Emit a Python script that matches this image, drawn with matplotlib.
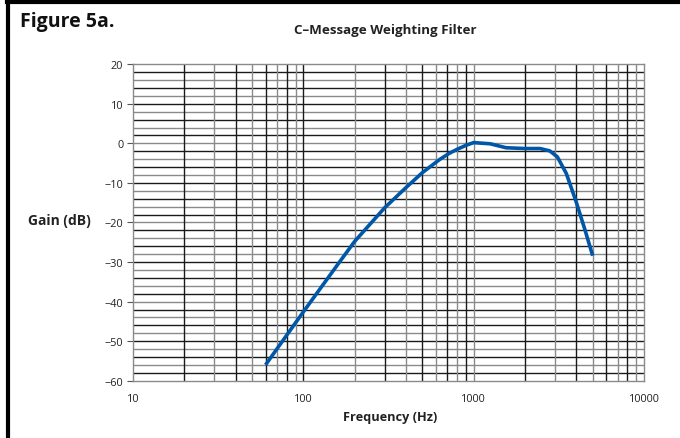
import numpy as np
import matplotlib.pyplot as plt
from matplotlib.lines import Line2D

# C-message weighting curve
freq_hz = [60, 100, 165, 200, 300, 400, 500, 630, 720, 800, 900, 1000,
           1250, 1550, 2000, 2450, 2800, 3100, 3500, 4000, 4500, 5000]
gain_db = [-56.0, -42.6, -29.7, -24.8, -16.3, -11.2, -7.4, -4.1, -2.5,
           -1.5, -0.5, 0.2, -0.1, -1.1, -1.3, -1.3, -1.9, -3.4, -7.6,
           -14.8, -21.8, -28.4]

x_ticks = [10, 100, 1000, 10000]
x_ticklabels = ["10", "100", "1000", "10000"]
y_ticks = [20, 10, 0, -10, -20, -30, -40, -50, -60]

plt.rcParams["font.family"] = ["Open Sans", "DejaVu Sans"]

fig = plt.figure(figsize=(6.8, 4.39), dpi=100)
ax = fig.add_axes([0.1956, 0.1305, 0.7514, 0.7208])

ax.set_xscale("log")
ax.set_xlim(10, 10000)
ax.set_ylim(-60, 20)

# grid: every 2 dB horizontally, 1-9 per decade vertically
for i, y in enumerate(np.arange(-58, 20, 2)):
    ax.axhline(y, color="#1a1a1a" if i % 2 == 0 else "#8a8a8a",
               lw=1.0, zorder=1)
k = 0
for dec in [10, 100, 1000]:
    for m in range(1, 10):
        f = dec * m
        if f == 10:
            continue
        ax.axvline(f, color="#1a1a1a" if k % 2 == 0 else "#8a8a8a",
                   lw=1.0, zorder=1)
        k += 1

ax.plot(freq_hz, gain_db, color="#0057a8", lw=2.6, zorder=3,
        solid_capstyle="butt")

for s in ax.spines.values():
    s.set_color("#8a8a8a")
    s.set_linewidth(1.0)

ax.set_xticks(x_ticks)
ax.set_xticklabels(x_ticklabels)
ax.xaxis.set_minor_locator(plt.NullLocator())
ax.set_yticks(y_ticks)
ax.set_yticklabels([f"{v}".replace("-", "\u2212") for v in y_ticks])
ax.tick_params(axis="x", length=0, pad=9, labelsize=7.8, colors="#222222")
ax.tick_params(axis="y", length=4, width=0.8, color="#555555", pad=3,
               labelsize=7.8, labelcolor="#222222")

fig.text(0.03, 0.95, "Figure 5a.", fontsize=14, fontweight="bold",
         ha="left", va="center", color="#111111")
fig.text(0.566, 0.93, "C\u2013Message Weighting Filter", fontsize=9.6,
         fontweight="bold", ha="center", va="center", color="#222222")
fig.text(0.087, 0.497, "Gain (dB)", fontsize=10, fontweight="bold",
         ha="center", va="center", color="#222222")
fig.text(0.574, 0.048, "Frequency (Hz)", fontsize=9.2, fontweight="bold",
         ha="center", va="center", color="#222222")

# frame lines on the top and left edges of the figure
fig.add_artist(Line2D([0.011, 1.0], [0.994, 0.994], color="black", lw=3,
                      transform=fig.transFigure))
fig.add_artist(Line2D([0.012, 0.012], [0.0, 0.994], color="black", lw=3,
                      transform=fig.transFigure))

fig.savefig("out.png", dpi=100)
